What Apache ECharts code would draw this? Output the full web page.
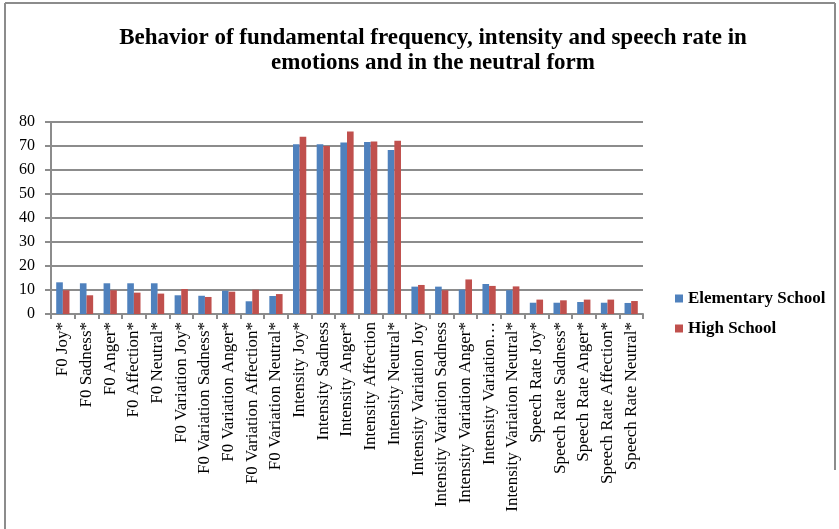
<!DOCTYPE html>
<html>
<head>
<meta charset="utf-8">
<script src="https://cdn.jsdelivr.net/npm/echarts@6/dist/echarts.min.js"></script>
<style>
  html, body { margin: 0; padding: 0; background: #fff; }
  #chart { width: 839px; height: 529px; }
</style>
</head>
<body>
<div id="chart"></div>
<script>
// Acoustic measures per emotion, by school level
const categories = [
  'F0 Joy*', 'F0 Sadness*', 'F0 Anger*', 'F0 Affection*', 'F0 Neutral*',
  'F0 Variation Joy*', 'F0 Variation Sadness*', 'F0 Variation Anger*', 'F0 Variation Affection*', 'F0 Variation Neutral*',
  'Intensity Joy*', 'Intensity Sadness', 'Intensity Anger*', 'Intensity Affection', 'Intensity Neutral*',
  'Intensity Variation Joy', 'Intensity Variation Sadness', 'Intensity Variation Anger*', 'Intensity Variation…', 'Intensity Variation Neutral*',
  'Speech Rate Joy*', 'Speech Rate Sadness*', 'Speech Rate Anger*', 'Speech Rate Affection*', 'Speech Rate Neutral*'
];
const elementary = [
  13.2, 12.8, 12.8, 12.8, 12.8,
  7.8, 7.6, 9.7, 5.3, 7.5,
  70.7, 70.7, 71.5, 71.7, 68.3,
  11.4, 11.4, 10.1, 12.5, 9.9,
  4.7, 4.7, 5.0, 4.7, 4.6
];
const highSchool = [
  9.9, 7.8, 9.9, 8.9, 8.5,
  10.4, 7.1, 9.3, 10.1, 8.3,
  73.9, 70.0, 76.0, 71.9, 72.2,
  12.1, 9.9, 14.4, 11.7, 11.5,
  6.0, 5.7, 6.0, 6.0, 5.4
];
const yTicks = [0, 10, 20, 30, 40, 50, 60, 70, 80];

const serif = '"Liberation Serif", "Times New Roman", serif';
const frame = '#8c8c8c';
const chart = echarts.init(document.getElementById('chart'));
chart.setOption({
  animation: false,
  backgroundColor: '#fff',
  title: {
    text: 'Behavior of fundamental frequency, intensity and speech rate in\nemotions and in the neutral form',
    left: 428,
    textAlign: 'center',
    top: 21,
    textStyle: { fontFamily: serif, fontWeight: 'bold', fontSize: 23, lineHeight: 25, color: '#000' }
  },
  graphic: [
    // outer frame: left and top edges, right edge down to the legend area
    { type: 'line', shape: { x1: 5, y1: 3, x2: 5, y2: 529 }, style: { stroke: frame, lineWidth: 2 }, silent: true },
    { type: 'line', shape: { x1: 5, y1: 3, x2: 835, y2: 3 }, style: { stroke: frame, lineWidth: 2 }, silent: true },
    { type: 'line', shape: { x1: 835, y1: 3, x2: 835, y2: 470 }, style: { stroke: frame, lineWidth: 2 }, silent: true }
  ],
  legend: {
    orient: 'vertical',
    left: 675,
    top: 290,
    padding: 0,
    itemWidth: 8,
    itemHeight: 8,
    itemGap: 13,
    icon: 'rect',
    textStyle: { fontFamily: serif, fontWeight: 'bold', fontSize: 17, color: '#000' },
    data: ['Elementary School', 'High School']
  },
  grid: { left: 51, right: 196, top: 122, bottom: 215, containLabel: false },
  xAxis: {
    type: 'category',
    data: categories,
    axisLine: { lineStyle: { color: frame, width: 2 } },
    axisTick: { show: true, length: 5, lineStyle: { color: frame, width: 2 } },
    axisLabel: {
      interval: 0,
      rotate: 90,
      margin: 8,
      fontFamily: serif,
      fontSize: 17,
      color: '#000'
    }
  },
  yAxis: {
    type: 'value',
    min: yTicks[0],
    max: yTicks[yTicks.length - 1],
    interval: 10,
    axisLine: { show: true, lineStyle: { color: frame, width: 2 } },
    axisTick: { show: true, length: 6, lineStyle: { color: frame, width: 2 } },
    splitLine: { lineStyle: { color: frame, width: 2 } },
    axisLabel: { fontFamily: serif, fontSize: 16, color: '#000', margin: 16 }
  },
  series: [
    {
      name: 'Elementary School',
      type: 'bar',
      data: elementary,
      itemStyle: { color: '#4F81BD' },
      barGap: '0%',
      barCategoryGap: '44%'
    },
    {
      name: 'High School',
      type: 'bar',
      data: highSchool,
      itemStyle: { color: '#C0504D' }
    }
  ]
});
</script>
</body>
</html>
